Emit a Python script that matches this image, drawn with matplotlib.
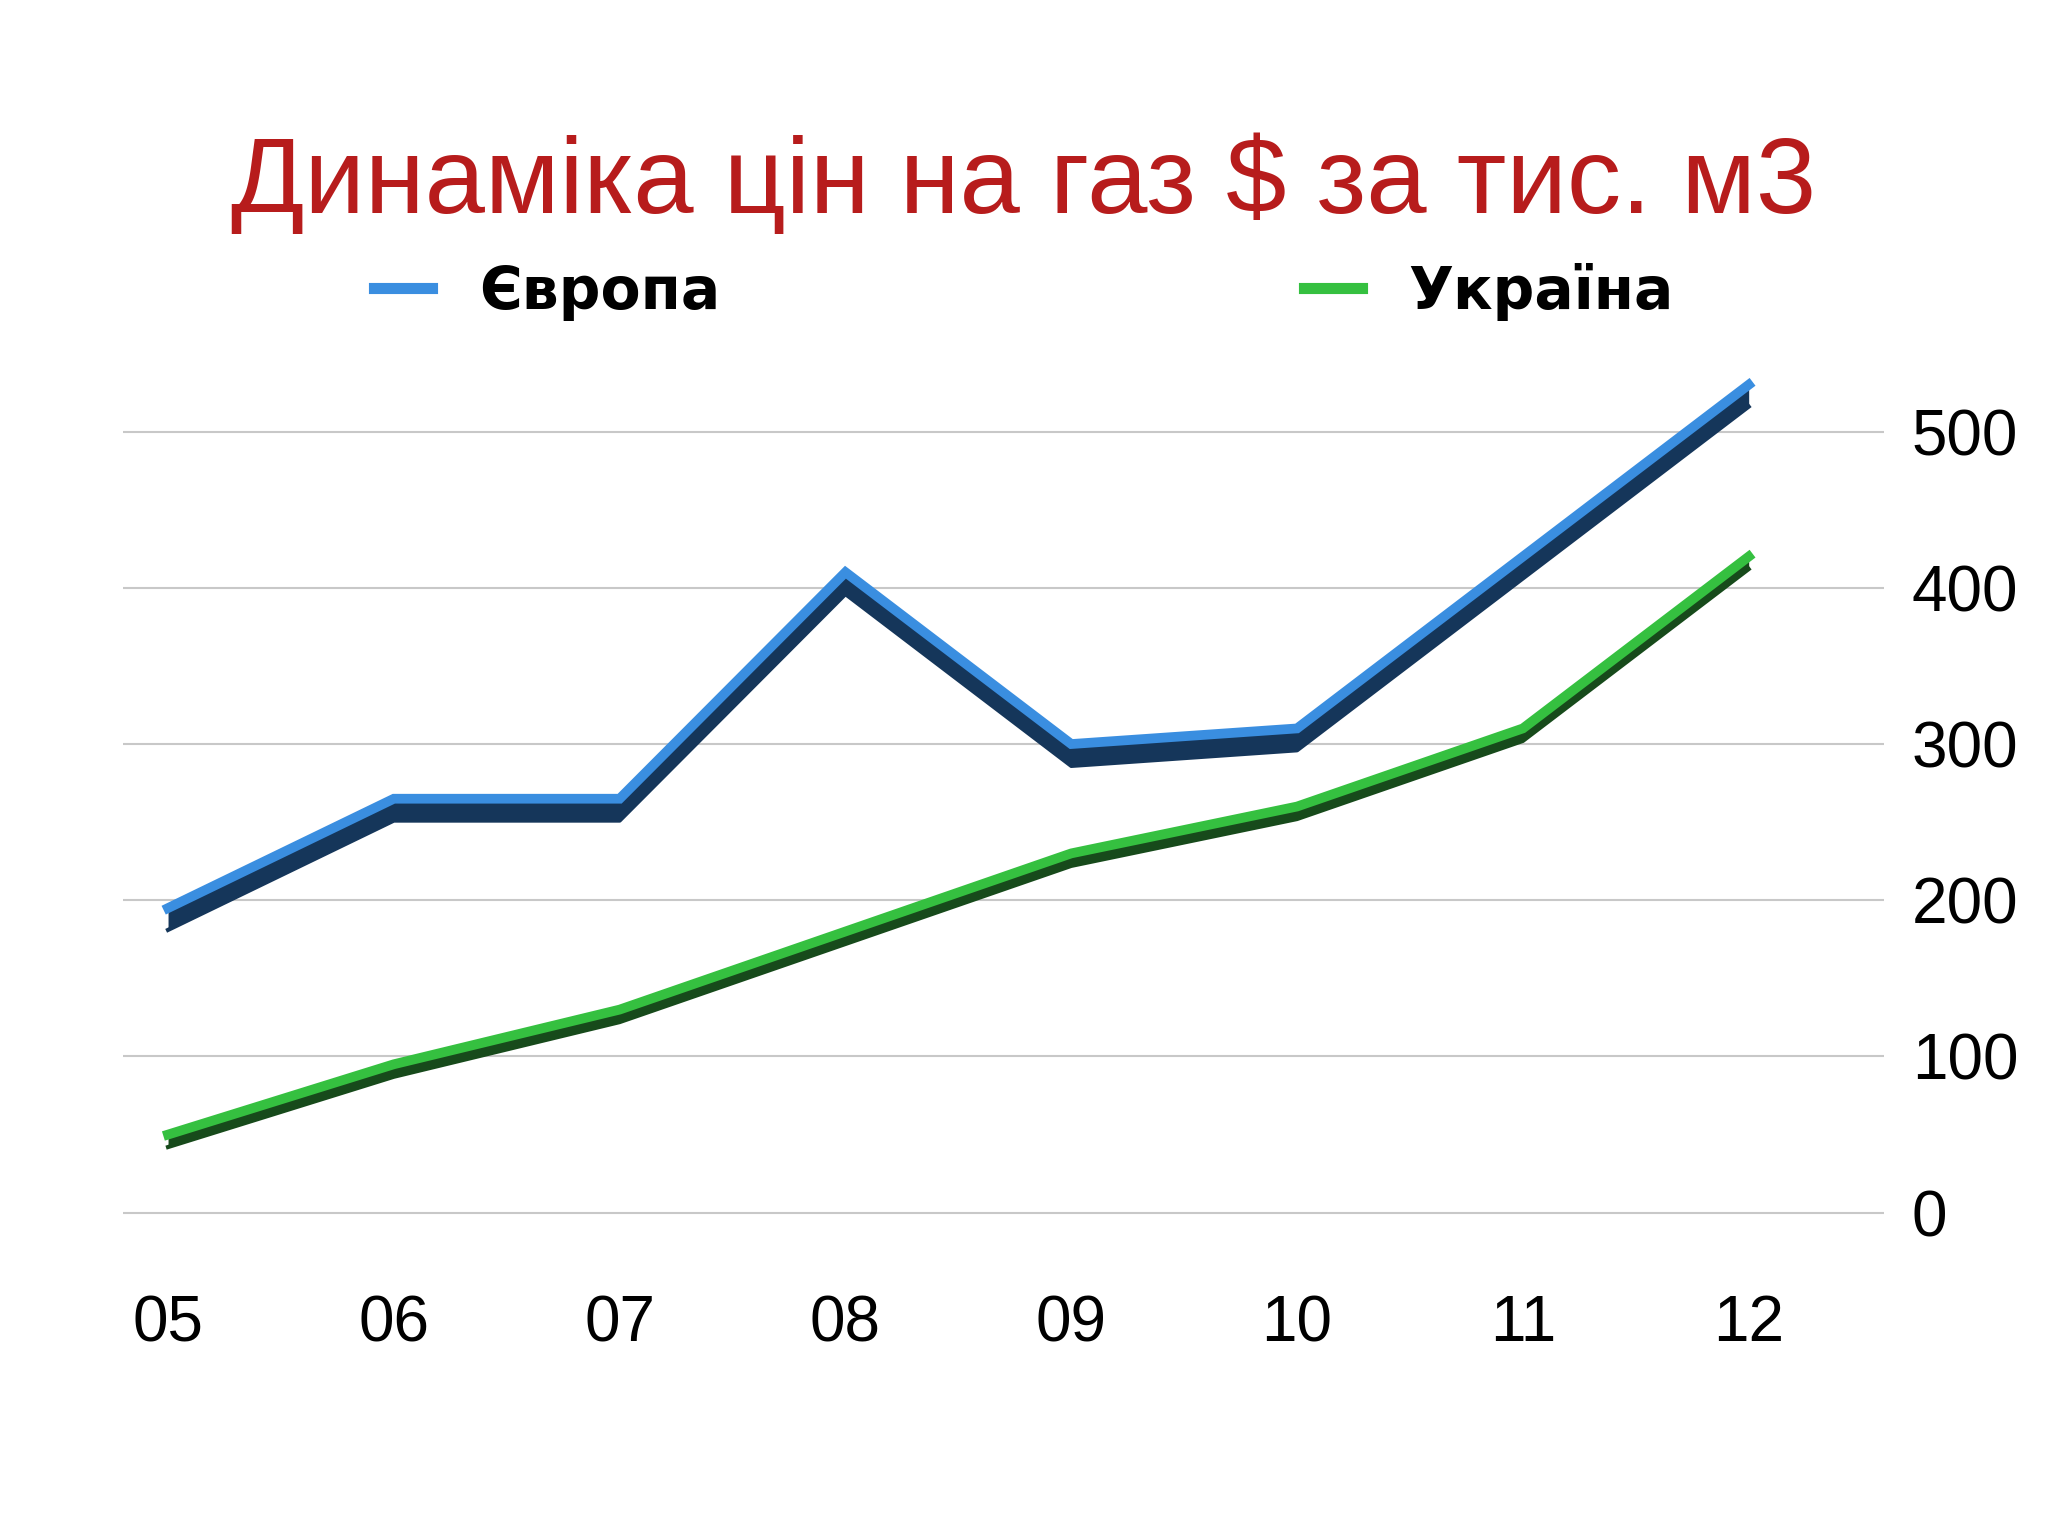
import matplotlib
matplotlib.use("Agg")
import matplotlib.pyplot as plt
import numpy as np

years = ["05", "06", "07", "08", "09", "10", "11", "12"]
europe = [195, 265, 265, 410, 300, 310, 420, 530]
ukraine = [50, 95, 130, 180, 230, 260, 310, 420]
yticks = [0, 100, 200, 300, 400, 500]

plt.rcParams['font.family'] = ['Liberation Sans', 'DejaVu Sans']
fig = plt.figure(figsize=(20.48, 15.36), dpi=100)
fig.text(0.5, 0.88, "Динаміка цін на газ $ за тис. м3", color="#b71c1c",
         fontsize=78, ha="center", va="center")
ax = fig.add_axes([0.06, 0.18, 0.86, 0.60])
x = np.arange(len(years))
for vals, top, dark, depth in [(europe, "#3a8ee0", "#15365a", 14), (ukraine, "#35c040", "#174a1b", 8)]:
    v = np.array(vals, dtype=float)
    ax.fill_between(x, v - depth, v, color=dark, lw=0, zorder=3)
    ax.plot(x, v - depth, color=dark, lw=3, zorder=3)
    ax.plot(x, v, color=top, lw=7, solid_joinstyle="miter", zorder=4)
ax.set_ylim(-30, 560)
ax.set_xlim(-0.2, 7.6)
ax.set_yticks(yticks)
ax.yaxis.tick_right()
ax.tick_params(axis="y", length=0, labelsize=46, pad=20)
ax.set_xticks(x)
ax.set_xticklabels(years)
ax.tick_params(axis="x", length=0, labelsize=46, pad=25)
ax.grid(axis="y", color="#c8c8c8", lw=1.5)
for s in ax.spines.values():
    s.set_visible(False)
h1, = ax.plot([], [], color="#3a8ee0", lw=8)
h2, = ax.plot([], [], color="#35c040", lw=8)
fig.legend([h1, h2], ["Європа", "Україна"], loc="center", bbox_to_anchor=(0.5, 0.81), ncol=2,
           frameon=False, handlelength=1.0, columnspacing=10,
           prop={"weight": "bold", "size": 42, "family": "DejaVu Sans"})
fig.savefig("out.png", dpi=100, facecolor="white")
